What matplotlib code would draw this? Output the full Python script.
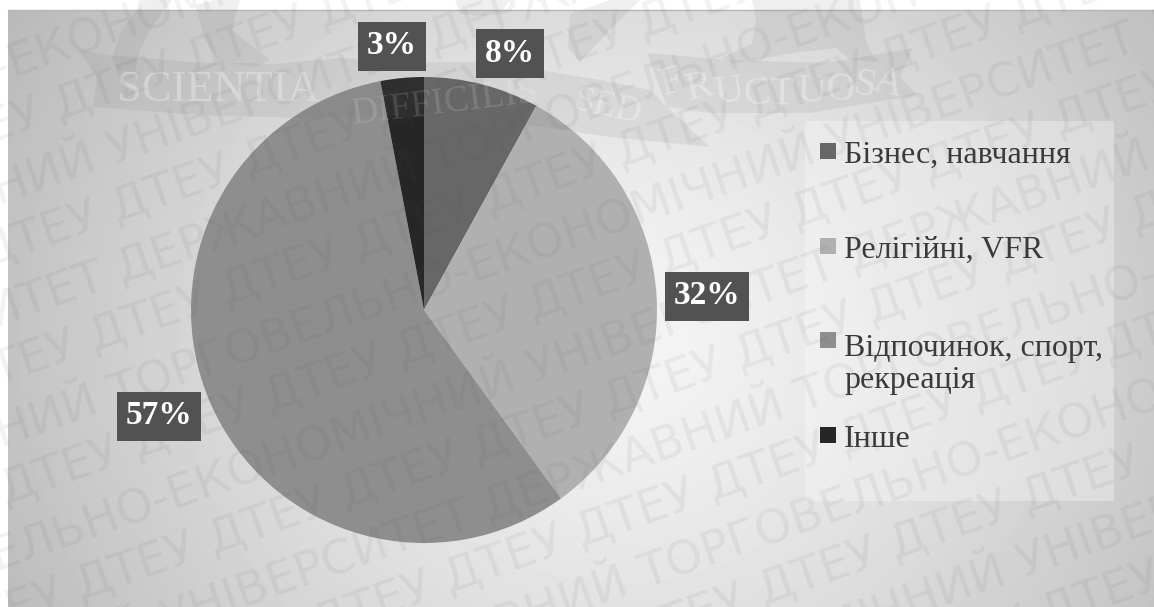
import numpy as np
import matplotlib
matplotlib.use("Agg")
import matplotlib.pyplot as plt
from matplotlib.patches import Polygon, Rectangle

labels = ["Бізнес, навчання", "Релігійні, VFR", "Відпочинок, спорт,\nрекреація", "Інше"]
shares = [8, 32, 57, 3]
slice_colors = ["#676767", "#b0b0b0", "#8e8e8e", "#262626"]
label_texts = ["8%", "32%", "57%", "3%"]
label_centres = [(510, 53), (707, 296), (159, 416), (392, 46)]
swatch_rows = [151, 246, 340, 435]
text_baselines = [163, 258, 388, 447]

W, H = 1154, 607
SERIF = "Liberation Serif"
INK = "#555555"

fig = plt.figure(figsize=(W / 100, H / 100), dpi=100, facecolor="white")


def pixel_axes():
    ax = fig.add_axes([0, 0, 1, 1])
    ax.set_xlim(0, W)
    ax.set_ylim(H, 0)
    ax.axis("off")
    ax.patch.set_visible(False)
    return ax


bg = pixel_axes()

# Radial grey gradient panel with a thin shadow along its top edge
xx, yy = np.meshgrid(np.arange(8, W), np.arange(10, H))
dist = np.hypot((xx - 620) / 600, (yy - 340) / 550)
shade = np.clip(0.96 - 0.19 * dist ** 1.3, 0, 1)
bg.imshow(shade, extent=(8, W, H, 10), cmap="gray", vmin=0, vmax=1, aspect="auto", zorder=0)
bg.set_xlim(0, W)
bg.set_ylim(H, 0)
bg.plot([8, W], [10, 10], color="#b5b5b5", lw=1, zorder=0.5)

# Pie
R = 233
cx, cy = 424, 310
pie_ax = fig.add_axes([(cx - R) / W, 1 - (cy + R) / H, 2 * R / W, 2 * R / H])
pie_ax.pie(shares, colors=slice_colors, startangle=90, counterclock=False, radius=1,
           wedgeprops=dict(linewidth=0))
pie_ax.set_xlim(-1, 1)
pie_ax.set_ylim(-1, 1)
pie_ax.set_aspect("equal")
pie_ax.patch.set_visible(False)

top = pixel_axes()

# Translucent legend panel
top.add_patch(Rectangle((805, 121), 309, 380, fc="white", alpha=0.3, ec="none", zorder=2))

for row, base, text, colour in zip(swatch_rows, text_baselines, labels, slice_colors):
    top.add_patch(Rectangle((820, row - 8), 16, 16, fc=colour, ec="none", zorder=3))
    top.text(844, base, text, family=SERIF, fontsize=23, color="#3a3a3a",
             va="baseline", ha="left", linespacing=1.14, zorder=3)

# Crest: banner folds and the figures' sandalled feet
crest_shapes = [
    [(78, 50), (107, 55), (190, 62), (273, 64), (340, 58), (400, 62), (400, 116),
     (300, 118), (200, 115), (93, 107), (97, 77)],
    [(400, 62), (480, 62), (540, 70), (600, 80), (650, 90), (668, 108), (710, 147),
     (610, 137), (530, 125), (400, 116)],
    [(647, 53), (727, 60), (827, 63), (913, 48), (900, 77), (917, 95), (810, 113),
     (710, 113), (667, 107)],
    [(112, 58), (122, 30), (145, 0), (172, 0), (150, 30), (140, 50), (135, 72), (118, 70)],
    [(195, 5), (215, 0), (240, 0), (232, 30), (270, 60), (255, 67), (220, 62), (205, 40)],
    [(752, 0), (860, 0), (866, 40), (872, 55), (880, 62), (850, 60), (836, 48), (800, 52),
     (735, 63), (722, 58), (752, 44), (756, 20)],
    [(570, 14), (610, 0), (640, 0), (610, 30), (580, 62), (568, 48)],
    [(455, 0), (510, 0), (500, 14), (480, 16), (460, 14)],
]
for shape in crest_shapes:
    top.add_patch(Polygon(shape, closed=True, fc="#707070", alpha=0.11, ec="none", zorder=3.5))

motto_words = [("SCIENTIA", 218, 90, 32, 0, 0.3), ("DIFFICILIS", 445, 103, 27, 7, 0.14),
               ("SED", 608, 108, 26, -12, 0.32)]
for word, x, y, size, rot, fade in motto_words:
    top.text(x, y, word, family=SERIF, fontsize=size, color="white", alpha=fade,
             ha="center", va="center", rotation=rot, rotation_mode="anchor", zorder=3.6)

# FRUCTUOSA follows the curve of its fold
arc_word = "FRUCTUOSA"
arc_x = [672, 700, 729, 757, 782, 811, 840, 864, 888]
arc_y = [83, 88, 92, 94, 94, 92, 90, 86, 84]
arc_rot = [16, 13, 9, 5, 0, -3, -7, -11, -15]
for ch, x, y, rot in zip(arc_word, arc_x, arc_y, arc_rot):
    top.text(x, y, ch, family=SERIF, fontsize=29, color="white", alpha=0.32,
             ha="center", va="center", rotation=rot, rotation_mode="anchor", zorder=3.6)

# Value labels on dark boxes
for (x, y), text in zip(label_centres, label_texts):
    top.text(x, y, text, family=SERIF, fontsize=24, fontweight="bold", color="white",
             ha="center", va="center", zorder=6,
             bbox=dict(boxstyle="square,pad=0.27", fc="#525252", ec="none"))

# Diagonal watermark rows, drawn over everything except the value labels
SLOPE = 0.35
ANGLE = np.degrees(np.arctan(SLOPE))
long_cycle = "ТОРГОВЕЛЬНО-ЕКОНОМІЧНИЙ УНІВЕРСИТЕТ ДЕРЖАВНИЙ"
long_rows = [(66, -350), (188, -610), (310, 430), (432, 110),
             (554, -190), (676, -555), (798, 640), (920, 300)]
short_rows = [(127, 55), (249, 112), (371, 222), (493, 265),
              (615, 209), (737, 50), (859, 759), (981, 1042)]


def watermark(x, intercept, text, ha):
    top.text(x, intercept - SLOPE * x, text, family="DejaVu Sans", fontsize=34, color=INK,
             alpha=0.08, rotation=ANGLE, rotation_mode="anchor", ha=ha, va="center", zorder=5)


for intercept, start in long_rows:
    watermark(start, intercept, " ".join([long_cycle] * 2), "left")
    watermark(start - 14, intercept, " ".join([long_cycle] * 2), "right")

for intercept, start in short_rows:
    watermark(start, intercept, " ".join(["ДТЕУ"] * 11), "left")
    watermark(start - 14, intercept, " ".join(["ДТЕУ"] * 11), "right")

fig.savefig("out.png", dpi=100, facecolor="white")
